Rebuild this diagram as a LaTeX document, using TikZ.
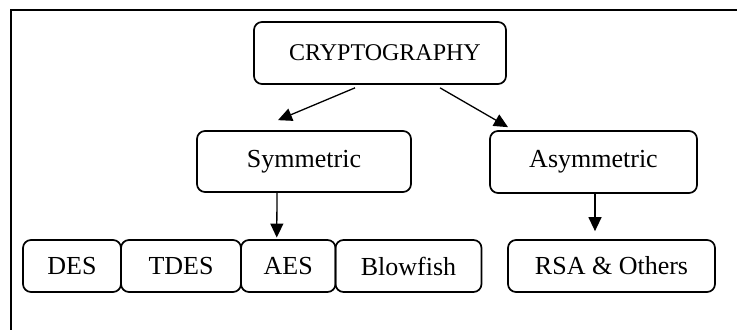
\documentclass[tikz,border=0pt]{standalone}
\usepackage{fontspec}
\setmainfont{Liberation Serif}
\usetikzlibrary{arrows.meta}

\begin{document}
\begin{tikzpicture}[x=0.5pt, y=-0.5pt,
  blk/.style={draw, line width=0.85pt, rounded corners=4pt, inner sep=0pt,
    font=\fontsize{13}{15}\selectfont},
  arw/.style={line width=0.65pt, -{Triangle[length=7pt, width=6.5pt]}}]
\useasboundingbox (0,0) rectangle (737,330);
%\node {\includegraphics{ref.png}};
\draw[line width=1.2pt] (10.7,330) -- (10.7,10) -- (737,10);
\node[blk, minimum width=126pt, minimum height=31pt,
  font=\fontsize{12}{14}\selectfont] (crypto) at (380,53) {\hspace{5pt}CRYPTOGRAPHY};
\node[blk, minimum width=107pt, minimum height=30.5pt] (sym) at (304,161.5) {Symmetric};
\node[blk, minimum width=103.5pt, minimum height=31pt] (asym) at (593.5,162) {Asymmetric};
\node[blk, minimum width=49pt, minimum height=26pt] (des) at (72,266) {DES};
\node[blk, minimum width=60pt, minimum height=26pt] (tdes) at (181,266) {TDES};
\node[blk, minimum width=47.25pt, minimum height=26pt] (aes) at (288.25,266) {AES};
\node[blk, minimum width=73pt, minimum height=26pt] (blow) at (408.5,266) {Blowfish};
\node[blk, minimum width=103.5pt, minimum height=26pt] (rsa) at (611.5,266) {RSA \& Others};
\draw[arw] ([xshift=-12.5pt,yshift=-1.5pt]crypto.south) -- ([xshift=-13pt,yshift=5pt]sym.north);
\draw[arw] ([xshift=30pt,yshift=-1.5pt]crypto.south) -- ([xshift=-42.75pt,yshift=1.5pt]asym.north);
\draw[arw] ([xshift=-13.5pt]sym.south) -- ([xshift=-5.75pt,yshift=0.8pt]aes.north);
\draw[arw] ([xshift=0.75pt]asym.south) -- ([xshift=-8.25pt,yshift=4pt]rsa.north);
\end{tikzpicture}
\end{document}
